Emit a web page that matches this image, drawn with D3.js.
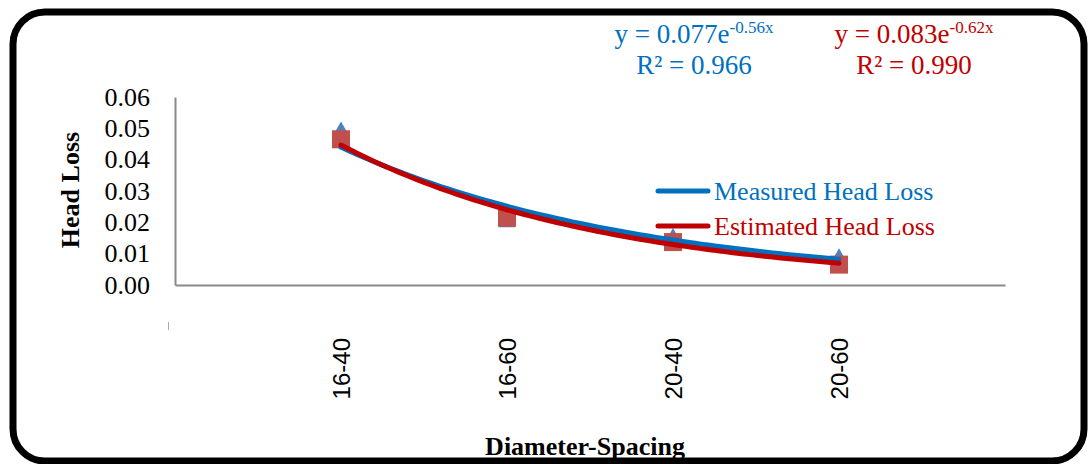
<!DOCTYPE html>
<html>
<head>
<meta charset="utf-8">
<script src="https://cdn.jsdelivr.net/npm/d3@7"></script>
<style>
  body { margin: 0; background: #fff; }
  svg { display: block; }
</style>
</head>
<body>
<script>
const categories = ['16-40', '16-60', '20-40', '20-60']
const measured = [0.049, 0.020, 0.015, 0.0085]
const estimated = [0.0465, 0.0215, 0.0137, 0.0065]
const yTicks = [0, 0.01, 0.02, 0.03, 0.04, 0.05, 0.06]

// trendline coefficients, y = a * e^(b * x), as printed on the chart
const measuredFit = [0.077, -0.56]
const estimatedFit = [0.083, -0.62]
const measuredR2 = '0.966'
const estimatedR2 = '0.990'

const W = 1089
const H = 464
const BLUE = '#0070C0'
const RED = '#C00000'
const serif = '"Liberation Serif", "Times New Roman", serif'

const svg = d3.select('body').append('svg')
  .attr('width', W)
  .attr('height', H)

// frame
svg.append('rect')
  .attr('x', 13).attr('y', 12)
  .attr('width', 1071).attr('height', 449)
  .attr('rx', 32)
  .attr('fill', '#fff')
  .attr('stroke', '#000')
  .attr('stroke-width', 7)

const x = d3.scalePoint()
  .domain(categories)
  .range([175, 1005])
  .padding(1)

const y = d3.scaleLinear()
  .domain([0, 0.06])
  .range([285, 97])

// y axis
const yAxis = svg.append('g')
  .attr('transform', 'translate(175,0)')
  .call(d3.axisLeft(y).tickValues(yTicks).tickFormat(d3.format('.2f')).tickSize(0).tickPadding(25))
yAxis.select('.domain').attr('stroke', '#898989').attr('stroke-width', 2)
yAxis.selectAll('text')
  .attr('font-family', serif)
  .attr('font-size', 26)
  .attr('fill', '#000')

// x axis
const xAxis = svg.append('g')
  .attr('transform', 'translate(0,285)')
  .call(d3.axisBottom(x).tickSize(0))
xAxis.select('.domain').attr('stroke', '#898989').attr('stroke-width', 2)
xAxis.selectAll('text')
  .attr('transform', 'rotate(-90)')
  .attr('x', -53)
  .attr('y', 0)
  .attr('dy', '0.36em')
  .attr('text-anchor', 'end')
  .attr('font-family', '"Liberation Sans", Arial, sans-serif')
  .attr('font-size', 24)
  .attr('fill', '#000')

// small stray tick left below the plot
svg.append('line')
  .attr('x1', 168.5).attr('x2', 168.5)
  .attr('y1', 322).attr('y2', 330)
  .attr('stroke', '#aaa').attr('stroke-width', 1)

// axis titles
svg.append('text')
  .attr('transform', 'translate(79,190) rotate(-90)')
  .attr('text-anchor', 'middle')
  .attr('font-family', serif)
  .attr('font-weight', 'bold')
  .attr('font-size', 26)
  .text('Head Loss')

svg.append('text')
  .attr('x', 585).attr('y', 455)
  .attr('text-anchor', 'middle')
  .attr('font-family', serif)
  .attr('font-weight', 'bold')
  .attr('font-size', 26)
  .text('Diameter-Spacing')

// markers
const plot = svg.append('g')

plot.selectAll('.tri')
  .data(measured)
  .join('path')
  .attr('class', 'tri')
  .attr('d', d3.symbol().type(d3.symbolTriangle).size(130))
  .attr('transform', (d, i) => `translate(${x(categories[i])},${y(d)})`)
  .attr('fill', '#4F81BD')

plot.selectAll('.sq')
  .data(estimated)
  .join('rect')
  .attr('class', 'sq')
  .attr('x', (d, i) => x(categories[i]) - 9)
  .attr('y', d => y(d) - 9)
  .attr('width', 18)
  .attr('height', 18)
  .attr('fill', '#C0504D')

// exponential trendlines over the category index 1..4
const line = d3.line()
  .x(d => x(categories[0]) + (d[0] - 1) * x.step())
  .y(d => y(d[1]))
  .curve(d3.curveBasis)

function trend([a, b]) {
  return d3.range(1, 4.001, 0.05).map(t => [t, a * Math.exp(b * t)])
}

plot.append('path')
  .datum(trend(measuredFit))
  .attr('d', line)
  .attr('fill', 'none')
  .attr('stroke', BLUE)
  .attr('stroke-width', 5)
  .attr('stroke-linecap', 'round')

plot.append('path')
  .datum(trend(estimatedFit))
  .attr('d', line)
  .attr('fill', 'none')
  .attr('stroke', RED)
  .attr('stroke-width', 5)
  .attr('stroke-linecap', 'round')

// legend
const legend = [
  { name: 'Measured Head Loss', color: BLUE, y: 191 },
  { name: 'Estimated Head Loss', color: RED, y: 226 }
]
const lg = svg.append('g').selectAll('g')
  .data(legend)
  .join('g')
  .attr('transform', d => `translate(0,${d.y})`)
lg.append('line')
  .attr('x1', 658).attr('x2', 708)
  .attr('stroke', d => d.color)
  .attr('stroke-width', 5)
  .attr('stroke-linecap', 'round')
lg.append('text')
  .attr('x', 714)
  .attr('dy', '0.35em')
  .attr('font-family', serif)
  .attr('font-size', 26)
  .attr('fill', d => d.color)
  .text(d => d.name)

// equations
const eqs = [
  { fit: measuredFit, r2: measuredR2, color: BLUE, cx: 694 },
  { fit: estimatedFit, r2: estimatedR2, color: RED, cx: 914 }
]
const eq = svg.append('g').selectAll('g')
  .data(eqs)
  .join('g')
  .attr('fill', d => d.color)
  .attr('font-family', serif)

const eqText = eq.append('text')
  .attr('x', d => d.cx)
  .attr('y', 43)
  .attr('text-anchor', 'middle')
  .attr('font-size', 27)
eqText.append('tspan').text(d => `y = ${d.fit[0]}e`)
eqText.append('tspan')
  .attr('dy', -10)
  .attr('font-size', 17)
  .text(d => `${d.fit[1]}x`)

eq.append('text')
  .attr('x', d => d.cx)
  .attr('y', 74)
  .attr('text-anchor', 'middle')
  .attr('font-size', 27)
  .text(d => `R² = ${d.r2}`)
</script>
</body>
</html>
